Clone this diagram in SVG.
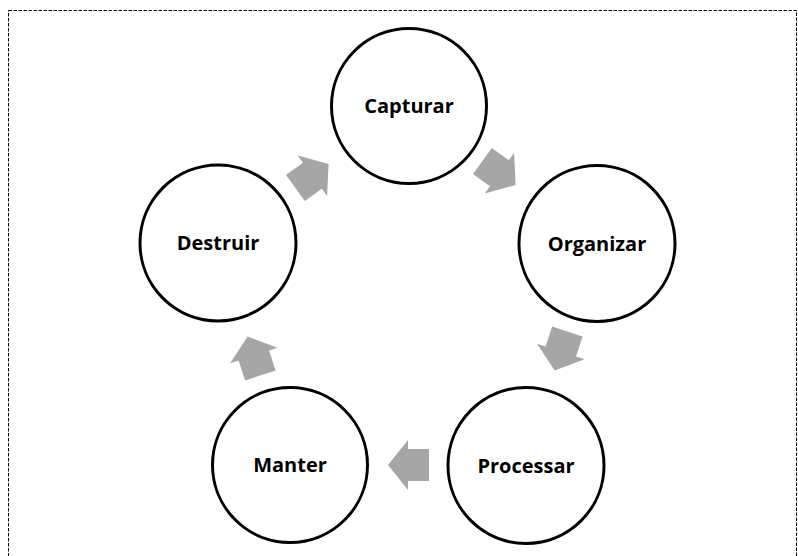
<svg xmlns="http://www.w3.org/2000/svg" width="798" height="556" viewBox="0 0 798 556">
  <defs>
    <!-- block arrow pointing to +x, centred on origin -->
    <polygon id="blockArrow" points="20.5,0 0.5,-25 0.5,-16 -20.5,-16 -20.5,16 0.5,16 0.5,25"/>
  </defs>
  <style>
    .frame { fill: none; stroke: #000; stroke-width: 1; stroke-dasharray: 3.5 1.5; }
    .node circle { fill: #fff; stroke: #000; stroke-width: 3; }
    .node text { font-family: "Open Sans", "Liberation Sans", sans-serif; font-weight: bold; font-size: 20px; fill: #000; text-anchor: middle; }
    .arrow { fill: #a6a6a6; }
  </style>
  <rect width="798" height="556" fill="#fff"/>
  <rect class="frame" x="8.5" y="10.5" width="788" height="560"/>

  <g id="connectors">
    <use class="arrow" href="#blockArrow" transform="translate(499,173) rotate(36)"/>
    <use class="arrow" href="#blockArrow" transform="translate(561,351) rotate(108)"/>
    <use class="arrow" href="#blockArrow" transform="translate(408.5,465) rotate(180)"/>
    <use class="arrow" href="#blockArrow" transform="translate(254,356) rotate(252)"/>
    <use class="arrow" href="#blockArrow" transform="translate(312,176) rotate(324)"/>
  </g>

  <g id="capturar" class="node">
    <circle cx="409" cy="106" r="77.5"/>
    <text x="409" y="113">Capturar</text>
  </g>
  <g id="organizar" class="node">
    <circle cx="597" cy="243.5" r="78"/>
    <text x="597" y="250.5">Organizar</text>
  </g>
  <g id="processar" class="node">
    <circle cx="526" cy="465.5" r="78"/>
    <text x="526" y="472.5">Processar</text>
  </g>
  <g id="manter" class="node">
    <circle cx="290" cy="465" r="77.5"/>
    <text x="290" y="472">Manter</text>
  </g>
  <g id="destruir" class="node">
    <circle cx="218" cy="243" r="78"/>
    <text x="218" y="250">Destruir</text>
  </g>
</svg>
